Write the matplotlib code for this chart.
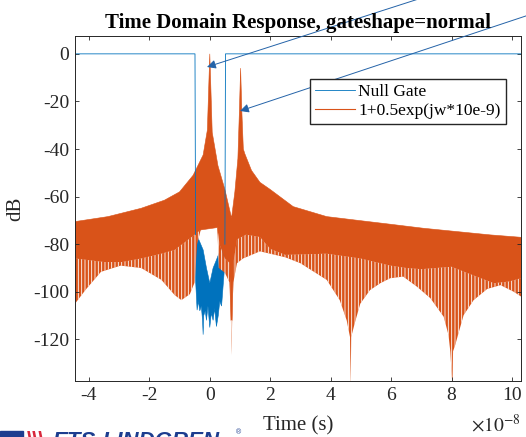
import numpy as np
import matplotlib
matplotlib.use("Agg")
import matplotlib.pyplot as plt
from matplotlib.patches import Rectangle
from matplotlib.ticker import FuncFormatter

plt.rcParams['font.family'] = ['Liberation Serif', 'DejaVu Serif']
plt.rcParams['mathtext.fontset'] = 'stix'
plt.rcParams['axes.unicode_minus'] = False
plt.rcParams['hatch.linewidth'] = 0.6
plt.rcParams['hatch.color'] = 'white'

T_EXP = -8
T_UNIT = 10.0 ** T_EXP  # all times below are in units of 1e-8 s

# Null Gate: 0 dB outside the gate, noise floor inside it
gate_t = [-4.46, -0.49, -0.47, np.nan, 0.50, 0.52, 10.30]
gate_db = [0, 0, -76, np.nan, -80, 0, 0]
floor_top_t = [-0.47, -0.40, -0.30, -0.22, -0.11, 0.0, 0.11, 0.22, 0.39, 0.50]
floor_top_db = [-75, -77, -80, -82.4, -90, -96.4, -90, -86.6, -81, -79.6]
floor_bot_t = [-0.47, -0.42, -0.38, -0.33, -0.28, -0.24, -0.22, -0.20, -0.15, -0.11, -0.06,
               0.0, 0.05, 0.11, 0.16, 0.22, 0.28, 0.33, 0.39, 0.45, 0.50]
floor_bot_db = [-95, -107.7, -104, -108, -106, -112, -118, -110, -108, -112, -106,
                -115, -109, -112, -107, -114.6, -110, -104, -106, -96, -88]

# 1+0.5exp(jw*10e-9): upper envelope, bottom of the solid band, tips of the spikes
resp_top_t = [-4.46, -3.37, -2.27, -1.5, -1.0, -0.55, -0.22, -0.08, -0.03, 0.0, 0.03, 0.08,
              0.27, 0.5, 0.72, 0.83, 0.93, 0.98, 1.02, 1.06, 1.11, 1.16, 1.38, 1.66, 2.0,
              2.76, 3.87, 4.98, 5.97, 7.07, 8.18, 9.29, 10.30]
resp_top_db = [-70.5, -68.4, -64.9, -61.5, -58.0, -51.0, -42.5, -32, -12, 0, -12, -33,
               -47, -57, -69, -58, -44, -24, -6, -24, -40, -42, -49, -54, -57,
               -64.2, -68.4, -70.1, -71.6, -73.3, -74.7, -76.1, -77.1]
resp_band_t = [-4.46, -3.5, -2.9, -2.27, -1.6, -1.16, -0.6, -0.3, 0.25, 0.32, 0.5, 0.66,
               0.70, 0.74, 0.78, 0.9, 1.2, 1.66, 2.0, 2.5, 3.87, 4.98, 5.97, 6.5, 7.0,
               8.0, 8.7, 9.4, 9.9, 10.30]
resp_band_db = [-86, -87.5, -87.5, -86, -84, -82.4, -77, -74, -73, -80, -86, -88,
                -112, -112, -88, -78, -76, -77, -82, -84.5, -84, -86, -89, -90, -90.5,
                -89.5, -93, -96.4, -95.7, -94.3]
resp_spike_t = [-4.46, -4.1, -3.6, -2.95, -2.27, -1.6, -1.16, -0.94, -0.66, -0.5, -0.42,
                -0.3, 0.25, 0.3, 0.5, 0.65, 0.70, 0.72, 0.74, 0.78, 0.9, 1.1, 1.66, 2.0,
                2.5, 3.0, 3.87, 4.3, 4.53, 4.64, 4.66, 4.68, 4.8, 4.98, 5.3, 5.64, 5.97,
                6.4, 6.86, 7.3, 7.74, 7.9, 7.96, 8.03, 8.05, 8.12, 8.23, 8.4, 8.73, 9.18,
                9.62, 10.06, 10.30]
resp_spike_db = [-105, -99, -91.6, -89, -90, -95, -101.4, -103.5, -101, -96, -80,
                 -74, -73, -90, -92, -96, -112, -126.6, -112, -96, -88, -86, -83, -84,
                 -85.5, -88, -95, -103.5, -112, -119, -140, -119, -113, -105, -99.3, -96.4, -94.3,
                 -93.6, -97.9, -102.7, -110.5, -118.2, -125.2, -140, -125, -122.4, -117.4, -109.8, -103.5, -98.8,
                 -97.2, -100, -102]

BLUE = '#0072BD'
ORANGE = '#D95319'
AXC = '#262626'


def outline(t_a, y_a, t_b, y_b):
    # polygon going along a, then back along b
    t = np.concatenate([np.array(t_a), np.array(t_b)[::-1]]) * T_UNIT
    y = np.concatenate([np.array(y_a), np.array(y_b)[::-1]])
    return t, y


fig = plt.figure(figsize=(5.26, 4.37), dpi=100)
ax = fig.add_axes([0.1426, 0.1281, 0.848, 0.7895])

ax.plot(np.array(gate_t) * T_UNIT, gate_db, color=BLUE, lw=0.6, label='Null Gate')
ft, fy = outline(floor_top_t, floor_top_db, floor_bot_t, floor_bot_db)
ax.fill(ft, fy, color=BLUE, lw=0.4)

ax.plot([], [], color=ORANGE, lw=0.8, label='1+0.5exp(jw*10e-9)')
bt, by = outline(resp_top_t, resp_top_db, resp_band_t, resp_band_db)
ax.fill(bt, by, facecolor=ORANGE, edgecolor=ORANGE, lw=0.4)
st, sy = outline(resp_band_t, resp_band_db, resp_spike_t, resp_spike_db)
ax.fill(st, sy, facecolor=ORANGE, edgecolor='white', lw=0, hatch='|||||')

ax.set_xlim(-4.46 * T_UNIT, 10.30 * T_UNIT)
ax.set_ylim(-137.5, 7.5)
ax.set_xticks(np.arange(-4, 11, 2) * T_UNIT)
ax.set_yticks(np.arange(-120, 1, 20))
ax.xaxis.set_major_formatter(FuncFormatter(lambda v, pos: f'{v / T_UNIT:g}'))

ax.tick_params(direction='in', top=True, right=True, length=3, width=0.6,
               colors=AXC, labelsize=14, pad=4)
for sp in ax.spines.values():
    sp.set_color(AXC)
    sp.set_linewidth(0.7)

ax.set_title('Time Domain Response, gateshape=normal', fontsize=15, fontweight='bold', pad=6)
ax.set_xlabel('Time (s)', fontsize=15, color=AXC, labelpad=9)
ax.set_ylabel('dB', fontsize=15, color=AXC, labelpad=6)
fig.text(521 / 526, 5 / 437, r'$\times10^{%d}$' % T_EXP, fontsize=14, color=AXC,
         ha='right', va='baseline')

ax.legend(loc='upper right', bbox_to_anchor=(0.966, 0.875), borderaxespad=0,
          fancybox=False, edgecolor=AXC, framealpha=1, fontsize=12.5,
          handlelength=2.3, handletextpad=0.17, borderpad=0.3, labelspacing=0.15)

# annotation arrows coming in from outside the top right corner
arrow = dict(arrowstyle='-|>', color='#2463a8', lw=0.7, mutation_scale=13,
             shrinkA=0, shrinkB=0)
ax.annotate('', xy=(207 / 526, 1 - 67 / 437), xycoords='figure fraction',
            xytext=(602 / 526, 1 + 60 / 437), textcoords='figure fraction',
            arrowprops=arrow, annotation_clip=False)
ax.annotate('', xy=(240 / 526, 1 - 111 / 437), xycoords='figure fraction',
            xytext=(604 / 526, 1 + 10 / 437), textcoords='figure fraction',
            arrowprops=arrow, annotation_clip=False)

# cut-off logo at the bottom left
fig.patches.append(Rectangle((0, 0), 23 / 526, 6 / 437, transform=fig.transFigure,
                             color='#1d3d8f'))
fig.text(27 / 526, -0.022, '\\\\\\', color='#d8283c', fontsize=16, fontweight='bold',
         family='Liberation Sans')
fig.text(53 / 526, -0.022, 'ETS-LINDGREN', color='#1d3d8f', fontsize=16,
         fontweight='bold', fontstyle='italic', family='Liberation Sans')
fig.text(236 / 526, 0.005, '®', color='#1d3d8f', fontsize=5, family='Liberation Sans')

fig.savefig('out.png', dpi=100)
